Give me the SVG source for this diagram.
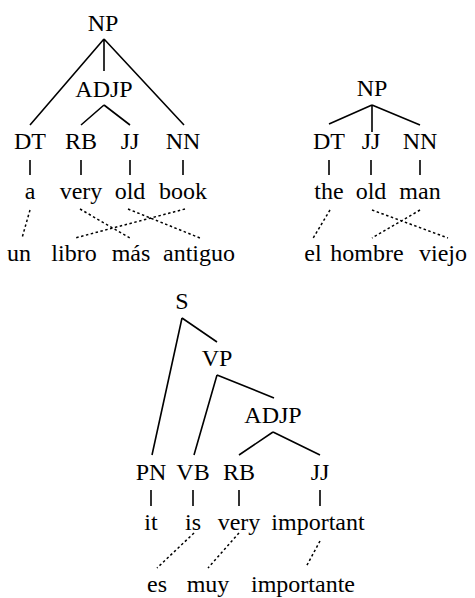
<svg xmlns="http://www.w3.org/2000/svg" width="475" height="598" viewBox="0 0 475 598">
<style>
text{font-family:'Liberation Serif',Tinos,'Times New Roman',Times,'DejaVu Serif',serif;font-size:24px;text-anchor:middle;fill:#000}
.e{stroke:#000;stroke-width:1.6;fill:none}
.a{stroke:#000;stroke-width:1.5;fill:none;stroke-dasharray:2.5,2.5}
</style>
<rect width="475" height="598" fill="#fff"/>
<g id="connectors">
<g id="tree1-edges">
<path class="e" d="M104,39L30,125M104,39L104,71M104,39L184,125M104,105L81,125M104,105L130,125"/>
<path class="e" d="M30,160V175M81,160V175M130,160V175M183,160V175"/>
<path class="a" d="M30,210L22,238M80,209L130,238M128,209L200,238M185,209L75,238"/>
</g>
<g id="tree2-edges">
<path class="e" d="M372,105L329,124M372,105L372,132M372,105L420,125"/>
<path class="e" d="M329,160V175M371,160V175M420,160V175"/>
<path class="a" d="M330,210L312,240M372,210L448,238M420,210L372,238"/>
</g>
<g id="tree3-edges">
<path class="e" d="M182,318L217,342M182,318L152,455M217,375L274,398M217,375L194,455M273,432L239,455M273,432L320,455"/>
<path class="e" d="M151,490V506M193,490V506M239,490V506M320,490V506"/>
<path class="a" d="M194,533L157,568M239,533L208,568M320,541L306,567"/>
</g>
</g>
<g font-family="Liberation Serif, serif">
<g id="t1-NP"><text x="103" y="31">NP</text></g>
<g id="t1-ADJP"><text x="104" y="97">ADJP</text></g>
<g id="t1-DT"><text x="30" y="149">DT</text></g>
<g id="t1-RB"><text x="81" y="149">RB</text></g>
<g id="t1-JJ"><text x="130" y="149">JJ</text></g>
<g id="t1-NN"><text x="183" y="149">NN</text></g>
<g id="t1-a"><text x="30" y="199">a</text></g>
<g id="t1-very"><text x="81" y="199">very</text></g>
<g id="t1-old"><text x="130" y="199">old</text></g>
<g id="t1-book"><text x="183" y="199">book</text></g>
<g id="t1-un"><text x="19" y="261">un</text></g>
<g id="t1-libro"><text x="74" y="261">libro</text></g>
<g id="t1-mas"><text x="131" y="261">más</text></g>
<g id="t1-antiguo"><text x="199" y="261">antiguo</text></g>
<g id="t2-NP"><text x="372" y="96">NP</text></g>
<g id="t2-DT"><text x="329" y="149">DT</text></g>
<g id="t2-JJ"><text x="371" y="149">JJ</text></g>
<g id="t2-NN"><text x="420" y="149">NN</text></g>
<g id="t2-the"><text x="329" y="199">the</text></g>
<g id="t2-old"><text x="371" y="199">old</text></g>
<g id="t2-man"><text x="420" y="199">man</text></g>
<g id="t2-el"><text x="313" y="261">el</text></g>
<g id="t2-hombre"><text x="367" y="261">hombre</text></g>
<g id="t2-viejo"><text x="443" y="261">viejo</text></g>
<g id="t3-S"><text x="182" y="309">S</text></g>
<g id="t3-VP"><text x="217" y="366">VP</text></g>
<g id="t3-ADJP"><text x="273" y="423">ADJP</text></g>
<g id="t3-PN"><text x="151" y="480">PN</text></g>
<g id="t3-VB"><text x="193" y="480">VB</text></g>
<g id="t3-RB"><text x="239" y="480">RB</text></g>
<g id="t3-JJ"><text x="320" y="480">JJ</text></g>
<g id="t3-it"><text x="151" y="530">it</text></g>
<g id="t3-is"><text x="193" y="530">is</text></g>
<g id="t3-very"><text x="239" y="530">very</text></g>
<g id="t3-important"><text x="318" y="530">important</text></g>
<g id="t3-es"><text x="157" y="592">es</text></g>
<g id="t3-muy"><text x="208" y="592">muy</text></g>
<g id="t3-importante"><text x="303" y="592">importante</text></g>
</g>
</svg>
